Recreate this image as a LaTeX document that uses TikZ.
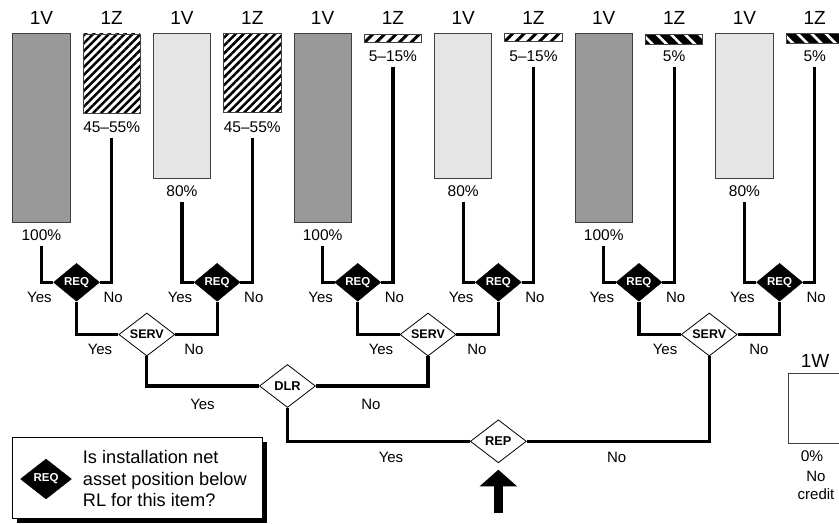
\documentclass[tikz,border=0pt]{standalone}
\usepackage{fontspec}
\setmainfont{Liberation Sans}
\usetikzlibrary{arrows.meta,shapes.geometric,patterns.meta,shadows}

\definecolor{darkbar}{gray}{0.6}
\definecolor{lightbar}{gray}{0.9}

\begin{document}
\begin{tikzpicture}[x=1pt, y=-1pt,
    head/.style={font=\fontsize{19}{21}\selectfont},
    pct/.style={font=\fontsize{15.5}{17}\selectfont, inner sep=2pt},
    ans/.style={font=\fontsize{15}{17}\selectfont, inner sep=1pt},
    bar/.style={draw=black!75, line width=0.8pt, anchor=north, minimum width=57.3pt, inner sep=0pt},
    fullbar/.style={bar, fill=darkbar, minimum height=189.3pt},
    partbar/.style={bar, fill=lightbar, minimum height=145pt},
    zbar/.style={bar, minimum height=79.6pt, pattern={Lines[angle=45,distance=5.6pt,line width=2.5pt]}},
    thinbar/.style={bar, minimum height=8.3pt, pattern={Lines[angle=45,distance=8.2pt,line width=3pt]}},
    blackbar/.style={bar, minimum height=10.7pt, preaction={fill=black}, pattern={Lines[angle=-45,distance=10pt,line width=2.6pt]}, pattern color=white},
    req/.style={diamond, fill=black, draw=black, minimum width=46pt, minimum height=38pt, inner sep=0pt, text=white, font=\bfseries\fontsize{11.5}{12}\selectfont},
    ask/.style={diamond, aspect=1.3, fill=white, draw=black, line width=0.8pt, minimum width=56pt, minimum height=43pt, inner sep=0pt, font=\bfseries\fontsize{12.5}{14}\selectfont},
    wire/.style={line width=3.2pt},
    push/.style={line width=8.7pt, -{Triangle[width=36.7pt,length=16.7pt]}, shorten >=6.5pt}]

    \useasboundingbox (0,0) rectangle (839,523);

    % column heads
    \node[head] (head1) at (41.4,18) {1V};
    \node[head] (head2) at (111.7,18) {1Z};
    \node[head] (head3) at (182.0,18) {1V};
    \node[head] (head4) at (252.3,18) {1Z};
    \node[head] (head5) at (322.6,18) {1V};
    \node[head] (head6) at (392.9,18) {1Z};
    \node[head] (head7) at (463.2,18) {1V};
    \node[head] (head8) at (533.5,18) {1Z};
    \node[head] (head9) at (603.8,18) {1V};
    \node[head] (head10) at (674.1,18) {1Z};
    \node[head] (head11) at (744.4,18) {1V};
    \node[head] (head12) at (814.7,18) {1Z};

    % bars
    \node[fullbar] (bar1) at (41.4,32.7) {};
    \node[zbar] (bar2) at (111.7,32.7) {};
    \node[partbar] (bar3) at (182.0,32.7) {};
    \node[zbar] (bar4) at (252.3,32.7) {};
    \node[fullbar] (bar5) at (322.6,32.7) {};
    \node[thinbar] (bar6) at (392.9,32.7) {};
    \node[partbar] (bar7) at (463.2,32.7) {};
    \node[thinbar] (bar8) at (533.5,32.7) {};
    \node[fullbar] (bar9) at (603.8,32.7) {};
    \node[blackbar] (bar10) at (674.1,32.7) {};
    \node[partbar] (bar11) at (744.4,32.7) {};
    \node[blackbar] (bar12) at (814.7,32.7) {};

    % credit under each bar
    \node[pct] (pct1) at (41.4,235) {100\%};
    \node[pct] (pct2) at (111.7,127) {45--55\%};
    \node[pct] (pct3) at (182.0,191) {80\%};
    \node[pct] (pct4) at (252.3,127) {45--55\%};
    \node[pct] (pct5) at (322.6,235) {100\%};
    \node[pct] (pct6) at (392.9,56) {5--15\%};
    \node[pct] (pct7) at (463.2,191) {80\%};
    \node[pct] (pct8) at (533.5,56) {5--15\%};
    \node[pct] (pct9) at (603.8,235) {100\%};
    \node[pct] (pct10) at (674.1,56) {5\%};
    \node[pct] (pct11) at (744.4,191) {80\%};
    \node[pct] (pct12) at (814.7,56) {5\%};

    % decisions
    \node[req] (req1) at (76.55,282.3) {REQ};
    \node[req] (req2) at (217.15,282.3) {REQ};
    \node[req] (req3) at (357.75,282.3) {REQ};
    \node[req] (req4) at (498.35,282.3) {REQ};
    \node[req] (req5) at (638.95,282.3) {REQ};
    \node[req] (req6) at (779.55,282.3) {REQ};
    \node[ask] (serv1) at (146.85,334.5) {SERV};
    \node[ask] (serv2) at (428.05,334.5) {SERV};
    \node[ask] (serv3) at (709.25,334.5) {SERV};
    \node[ask, font=\bfseries\fontsize{12.8}{14}\selectfont] (dlr) at (287.45,386) {DLR};
    \node[ask, font=\bfseries\fontsize{12.8}{14}\selectfont] (rep) at (498.35,441.3) {REP};

    % tree lines
    \draw[wire, shorten <=3pt] (pct1.south) |- (req1.west);
    \draw[wire, shorten <=3pt] (pct2.south) |- (req1.east);
    \draw[wire, shorten <=3pt] (pct3.south) |- (req2.west);
    \draw[wire, shorten <=3pt] (pct4.south) |- (req2.east);
    \draw[wire, shorten <=3pt] (pct5.south) |- (req3.west);
    \draw[wire, shorten <=3pt] (pct6.south) |- (req3.east);
    \draw[wire, shorten <=3pt] (pct7.south) |- (req4.west);
    \draw[wire, shorten <=3pt] (pct8.south) |- (req4.east);
    \draw[wire, shorten <=3pt] (pct9.south) |- (req5.west);
    \draw[wire, shorten <=3pt] (pct10.south) |- (req5.east);
    \draw[wire, shorten <=3pt] (pct11.south) |- (req6.west);
    \draw[wire, shorten <=3pt] (pct12.south) |- (req6.east);
    \draw[wire] (req1.south) |- (serv1.west);
    \draw[wire] (req2.south) |- (serv1.east);
    \draw[wire] (req3.south) |- (serv2.west);
    \draw[wire] (req4.south) |- (serv2.east);
    \draw[wire] (req5.south) |- (serv3.west);
    \draw[wire] (req6.south) |- (serv3.east);
    \draw[wire] (serv1.south) |- (dlr.west);
    \draw[wire] (serv2.south) |- (dlr.east);
    \draw[wire] (dlr.south) |- (rep.west);
    \draw[wire] (serv3.south) |- (rep.east);

    % Yes / No
    \node[ans] (y1) at (39.4,297.7) {Yes};   \node[ans] (n1) at (113.2,297.7) {No};
    \node[ans] (y2) at (180.0,297.7) {Yes};  \node[ans] (n2) at (253.8,297.7) {No};
    \node[ans] (y3) at (320.6,297.7) {Yes};  \node[ans] (n3) at (394.4,297.7) {No};
    \node[ans] (y4) at (461.2,297.7) {Yes};  \node[ans] (n4) at (535.0,297.7) {No};
    \node[ans] (y5) at (601.8,297.7) {Yes};  \node[ans] (n5) at (675.6,297.7) {No};
    \node[ans] (y6) at (742.4,297.7) {Yes};  \node[ans] (n6) at (816.2,297.7) {No};
    \node[ans] (ys1) at (100.0,349) {Yes};   \node[ans] (ns1) at (194.0,349) {No};
    \node[ans] (ys2) at (381.0,349) {Yes};   \node[ans] (ns2) at (477.0,349) {No};
    \node[ans] (ys3) at (665.0,349) {Yes};   \node[ans] (ns3) at (759.0,349) {No};
    \node[ans] (yd) at (202.5,404) {Yes};    \node[ans] (nd) at (371.0,404) {No};
    \node[ans] (yr) at (391.0,457.7) {Yes};  \node[ans] (nr) at (616.7,457.7) {No};

    % start arrow
    \coordinate (foot) at (498.35,513.3);
    \draw[push] (foot) -- (rep.south);

    % no credit column
    \node[head] (head13) at (815,360.7) {1W};
    \node[bar, anchor=north west, minimum height=69.4pt, fill=white] (bar13) at (787.7,373.3) {};
    \node[pct] (pct13) at (812,456) {0\%};
    \node[ans, align=center, font=\fontsize{15}{17.3}\selectfont] (nocredit) at (816,485.3) {No\\credit};

    % key
    \node[draw=black, line width=1pt, fill=white, anchor=north west, minimum width=250pt, minimum height=81pt,
          drop shadow={shadow xshift=5pt, shadow yshift=-4pt, opacity=1, fill=black}] (key) at (11.7,437.3) {};
    \node[req, minimum width=51pt, minimum height=40pt] (keyreq) at (46,479) {REQ};
    \node[anchor=west, align=left, inner sep=0pt, font=\fontsize{18.2}{21.7}\selectfont] (keytext) at (82.7,478.5)
        {Is installation net\\asset position below\\RL for this item?};
\end{tikzpicture}
\end{document}
